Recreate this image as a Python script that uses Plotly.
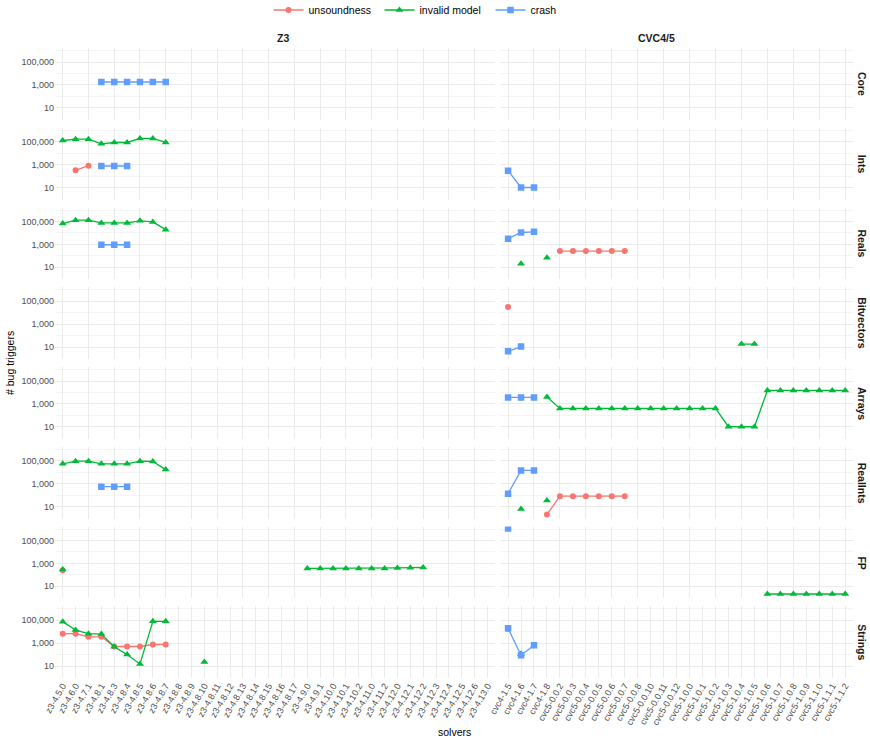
import plotly.graph_objects as go
from plotly.subplots import make_subplots

# ---------------- categories ----------------
z3_versions = ["z3-4.5.0", "z3-4.6.0", "z3-4.7.1", "z3-4.8.1", "z3-4.8.3", "z3-4.8.4",
               "z3-4.8.5", "z3-4.8.6", "z3-4.8.7", "z3-4.8.8", "z3-4.8.9", "z3-4.8.10",
               "z3-4.8.11", "z3-4.8.12", "z3-4.8.13", "z3-4.8.14", "z3-4.8.15", "z3-4.8.16",
               "z3-4.8.17", "z3-4.9.0", "z3-4.9.1", "z3-4.10.0", "z3-4.10.1", "z3-4.10.2",
               "z3-4.11.0", "z3-4.11.2", "z3-4.12.0", "z3-4.12.1", "z3-4.12.2", "z3-4.12.3",
               "z3-4.12.4", "z3-4.12.5", "z3-4.12.6", "z3-4.13.0"]
cvc_versions = ["cvc4-1.5", "cvc4-1.6", "cvc4-1.7", "cvc4-1.8", "cvc5-0.0.2", "cvc5-0.0.3",
                "cvc5-0.0.4", "cvc5-0.0.5", "cvc5-0.0.6", "cvc5-0.0.7", "cvc5-0.0.8",
                "cvc5-0.0.10", "cvc5-0.0.11", "cvc5-0.0.12", "cvc5-1.0.0", "cvc5-1.0.1",
                "cvc5-1.0.2", "cvc5-1.0.3", "cvc5-1.0.4", "cvc5-1.0.5", "cvc5-1.0.6",
                "cvc5-1.0.7", "cvc5-1.0.8", "cvc5-1.0.9", "cvc5-1.1.0", "cvc5-1.1.1", "cvc5-1.1.2"]
solvers = ["Z3", "CVC4/5"]
theories = ["Core", "Ints", "Reals", "Bitvectors", "Arrays", "RealInts", "FP", "Strings"]
kinds = ["unsoundness", "invalid model", "crash"]

y_tick_vals = [10, 1000, 100000]
y_tick_text = ["10", "1,000", "100,000"]

# ---------------- series values (start version, consecutive values; None = missing) ----------------
z3_core_crash = ("z3-4.8.1", [1800, 1800, 1800, 1800, 1800, 1800])
z3_ints_unsound = ("z3-4.6.0", [320, 820])
z3_ints_invalid = ("z3-4.5.0", [130000, 170000, 170000, 66000, 87000, 87000, 196000, 196000, 87000])
z3_ints_crash = ("z3-4.8.1", [760, 760, 760])
z3_reals_invalid = ("z3-4.5.0", [66000, 131000, 131000, 76000, 76000, 76000, 115000, 93000, 19500])
z3_reals_crash = ("z3-4.8.1", [930, 930, 930])
z3_realints_invalid = ("z3-4.5.0", [54000, 93000, 93000, 54000, 54000, 54000, 93000, 87000, 17000])
z3_realints_crash = ("z3-4.8.1", [540, 540, 540])
z3_fp_unsound = ("z3-4.5.0", [250])
z3_fp_invalid_a = ("z3-4.5.0", [300])
z3_fp_invalid_b = ("z3-4.9.0", [360, 360, 360, 360, 360, 360, 360, 400, 420, 440])
z3_strings_unsound = ("z3-4.5.0", [6700, 6700, 3600, 3600, 510, 510, 510, 760, 760])
z3_strings_invalid = ("z3-4.5.0", [76000, 14000, 6700, 6200, 480, 100, 15, 82000, 82000, None, None, 22])

cvc_ints_crash = ("cvc4-1.5", [300, 10, 10])
cvc_reals_unsound = ("cvc5-0.0.2", [260, 260, 260, 260, 260, 260])
cvc_reals_invalid = ("cvc4-1.6", [20, None, 69])
cvc_reals_crash = ("cvc4-1.5", [3200, 11000, 12700])
cvc_bv_unsound = ("cvc4-1.5", [32000])
cvc_bv_invalid = ("cvc5-1.0.4", [18, 18])
cvc_bv_crash = ("cvc4-1.5", [4.2, 11])
cvc_arrays_invalid = ("cvc4-1.8", [4100, 400, 400, 400, 400, 400, 400, 400, 400, 400, 400, 400, 400, 400,
                                   10, 10, 10, 15000, 15000, 15000, 15000, 15000, 15000, 15000])
cvc_arrays_crash = ("cvc4-1.5", [3700, 3700, 3700])
cvc_realints_unsound = ("cvc4-1.8", [2, 80, 80, 80, 80, 80, 80])
cvc_realints_invalid = ("cvc4-1.6", [6, None, 33])
cvc_realints_crash = ("cvc4-1.5", [130, 14500, 14500])
cvc_fp_invalid = ("cvc5-1.0.6", [2.1, 2.1, 2.1, 2.1, 2.1, 2.1, 2.1])
cvc_fp_crash = ("cvc4-1.5", [1150000])
cvc_strings_unsound = ("cvc4-1.5", [17000])
cvc_strings_invalid = ("cvc4-1.6", [120])
cvc_strings_crash = ("cvc4-1.5", [20000, 87, 660])

series = [
    # (solver, theory, kind, data)
    ("Z3", "Ints", "unsoundness", z3_ints_unsound),
    ("Z3", "FP", "unsoundness", z3_fp_unsound),
    ("Z3", "Strings", "unsoundness", z3_strings_unsound),
    ("CVC4/5", "Reals", "unsoundness", cvc_reals_unsound),
    ("CVC4/5", "Bitvectors", "unsoundness", cvc_bv_unsound),
    ("CVC4/5", "RealInts", "unsoundness", cvc_realints_unsound),
    ("CVC4/5", "Strings", "unsoundness", cvc_strings_unsound),
    ("Z3", "Ints", "invalid model", z3_ints_invalid),
    ("Z3", "Reals", "invalid model", z3_reals_invalid),
    ("Z3", "RealInts", "invalid model", z3_realints_invalid),
    ("Z3", "FP", "invalid model", z3_fp_invalid_a),
    ("Z3", "FP", "invalid model", z3_fp_invalid_b),
    ("Z3", "Strings", "invalid model", z3_strings_invalid),
    ("CVC4/5", "Reals", "invalid model", cvc_reals_invalid),
    ("CVC4/5", "Bitvectors", "invalid model", cvc_bv_invalid),
    ("CVC4/5", "Arrays", "invalid model", cvc_arrays_invalid),
    ("CVC4/5", "RealInts", "invalid model", cvc_realints_invalid),
    ("CVC4/5", "FP", "invalid model", cvc_fp_invalid),
    ("CVC4/5", "Strings", "invalid model", cvc_strings_invalid),
    ("Z3", "Core", "crash", z3_core_crash),
    ("Z3", "Ints", "crash", z3_ints_crash),
    ("Z3", "Reals", "crash", z3_reals_crash),
    ("Z3", "RealInts", "crash", z3_realints_crash),
    ("CVC4/5", "Ints", "crash", cvc_ints_crash),
    ("CVC4/5", "Reals", "crash", cvc_reals_crash),
    ("CVC4/5", "Bitvectors", "crash", cvc_bv_crash),
    ("CVC4/5", "Arrays", "crash", cvc_arrays_crash),
    ("CVC4/5", "RealInts", "crash", cvc_realints_crash),
    ("CVC4/5", "FP", "crash", cvc_fp_crash),
    ("CVC4/5", "Strings", "crash", cvc_strings_crash),
]

# ---------------- styles ----------------
colors = {"unsoundness": "#F8766D", "invalid model": "#00BA38", "crash": "#619CFF"}
symbols = {"unsoundness": "circle", "invalid model": "triangle-up", "crash": "square"}
msizes = {"unsoundness": 6, "invalid model": 7, "crash": 6.5}
FONT = "Liberation Sans, Arial, sans-serif"

W, H = 870, 740
ML, MR, MT, MB = 55, 17, 48, 62
PW, PH = W - ML - MR, H - MT - MB

col_units = [len(z3_versions) + 1.2, len(cvc_versions) + 1.2]
fig = make_subplots(rows=len(theories), cols=2, column_widths=col_units,
                    horizontal_spacing=5 / PW, vertical_spacing=8 / PH)

versions_of = {"Z3": z3_versions, "CVC4/5": cvc_versions}


def place(versions, start, vals):
    out = [None] * len(versions)
    i0 = versions.index(start)
    for k, v in enumerate(vals):
        out[i0 + k] = v
    return out


# invisible carrier traces so that every panel (also empty ones) draws its grid
for r in range(1, len(theories) + 1):
    for c, s in enumerate(solvers, start=1):
        vers = versions_of[s]
        fig.add_trace(go.Scatter(x=vers, y=[None] * len(vers), mode="markers", showlegend=False,
                                 hoverinfo="skip", marker=dict(opacity=0)), row=r, col=c)

shown = set()
for solver, theory, kind, (start, vals) in series:
    vers = versions_of[solver]
    yv = place(vers, start, vals)
    r = theories.index(theory) + 1
    c = solvers.index(solver) + 1
    fig.add_trace(go.Scatter(
        x=vers, y=yv, mode="lines+markers", connectgaps=False,
        name=kind, legendgroup=kind, showlegend=kind not in shown,
        line=dict(color=colors[kind], width=1.3),
        marker=dict(color=colors[kind], symbol=symbols[kind], size=msizes[kind], line=dict(width=0)),
    ), row=r, col=c)
    shown.add(kind)

for r in range(1, len(theories) + 1):
    for c in (1, 2):
        vers = versions_of[solvers[c - 1]]
        fig.update_xaxes(type="category", categoryorder="array", categoryarray=vers,
                         range=[-0.6, len(vers) - 0.4], showgrid=True, gridcolor="#EBEBEB",
                         gridwidth=1, zeroline=False, showline=False, ticks="", automargin=False,
                         showticklabels=(r == len(theories)), tickangle=-60,
                         tickfont=dict(size=9, color="#4D4D4D", family=FONT),
                         row=r, col=c)
        fig.update_yaxes(type="log", range=[-0.05, 6.23], tickvals=y_tick_vals, ticktext=y_tick_text,
                         showgrid=True, gridcolor="#EBEBEB", gridwidth=1, zeroline=False,
                         showline=False, ticks="", showticklabels=(c == 1), automargin=False,
                         tickfont=dict(size=9, color="#4D4D4D", family=FONT),
                         minor=dict(tickvals=[1, 100, 10000, 1000000], showgrid=True,
                                    gridcolor="#F4F4F4", gridwidth=1),
                         row=r, col=c)

annotations = []
# column strips
for c, s in enumerate(solvers, start=1):
    xa = fig.layout["xaxis" + ("" if c == 1 else str(c))]
    d = xa.domain
    annotations.append(dict(text="<b>%s</b>" % s, x=(d[0] + d[1]) / 2, y=1 + 10 / PH,
                            xref="paper", yref="paper", showarrow=False, yanchor="middle",
                            font=dict(size=10.5, color="#1A1A1A", family=FONT)))
# row strips
for r, t in enumerate(theories, start=1):
    idx = (r - 1) * 2 + 1
    ya = fig.layout["yaxis" + ("" if idx == 1 else str(idx))]
    d = ya.domain
    annotations.append(dict(text="<b>%s</b>" % t, x=1 + 9 / PW, y=(d[0] + d[1]) / 2,
                            xref="paper", yref="paper", showarrow=False, textangle=90,
                            xanchor="center", yanchor="middle",
                            font=dict(size=10.5, color="#1A1A1A", family=FONT)))
# axis titles
annotations.append(dict(text="# bug triggers", x=-45 / PW, y=0.5, xref="paper", yref="paper",
                        showarrow=False, textangle=-90, xanchor="center", yanchor="middle",
                        font=dict(size=10.5, color="#000000", family=FONT)))
annotations.append(dict(text="solvers", x=0.5, y=-(732 - (H - MB)) / PH, xref="paper", yref="paper",
                        showarrow=False, xanchor="center", yanchor="middle",
                        font=dict(size=10.5, color="#000000", family=FONT)))

fig.update_layout(
    width=W, height=H,
    margin=dict(l=ML, r=MR, t=MT, b=MB, autoexpand=False),
    paper_bgcolor="white", plot_bgcolor="white",
    font=dict(family=FONT, size=10, color="#4D4D4D"),
    annotations=annotations,
    legend=dict(orientation="h", x=0.5, xanchor="center", xref="container",
                y=1 - 10 / H, yanchor="middle", yref="container",
                font=dict(size=10.5, color="#000000", family=FONT), itemwidth=30,
                entrywidth=66, entrywidthmode="pixels", tracegroupgap=0),
)

fig.write_html("out.html", config={"displayModeBar": False},
               post_script="document.body.style.margin='0px';document.body.style.padding='0px';")
